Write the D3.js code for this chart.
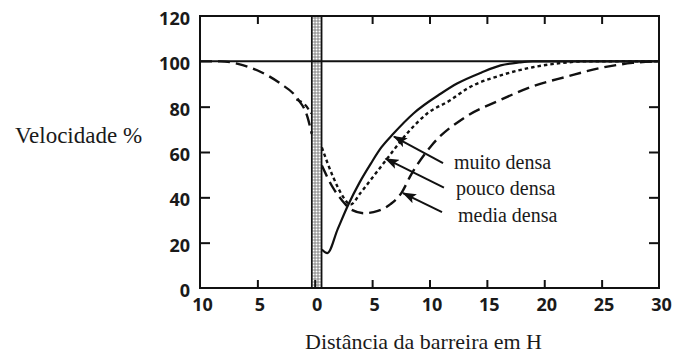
<!DOCTYPE html>
<html>
<head>
<meta charset="utf-8">
<script src="https://cdn.jsdelivr.net/npm/d3@7"></script>
<style>
body { margin: 0; background: #fff; }
svg { display: block; }
.num { font-family: "Open Sans", sans-serif; font-weight: 700; font-size: 18px; fill: #1a1a1a; }
.serif { font-family: "Liberation Serif", "Times New Roman", serif; fill: #1a1a1a; }
</style>
</head>
<body>
<svg id="chart" width="678" height="355"></svg>
<script>
// ---- values: [distance in H, velocity %] ----
const xTicks = [-10, -5, 0, 5, 10, 15, 20, 25, 30];
const yTicks = [0, 20, 40, 60, 80, 100, 120];
const sideYTicks = [20, 40, 60, 80];
const topTicks = [-5, 5, 10, 15, 20, 25];
const bottomTicks = [-5, 0, 5, 10, 15, 20, 25];
const barrier = [-0.26, 0.6];
const reference = 100;

const seriesNames = ["muito densa", "pouco densa", "media densa"];

const muitoDensa = [[0.62, 17], [1.1, 15.4], [2.0, 26], [2.9, 36.5], [3.9, 46.5], [4.9, 55], [5.8, 62],
  [6.8, 67.8], [8.6, 77], [11, 85.8], [12.4, 90.2], [14.5, 95], [16.2, 98.2], [17.8, 99.5], [19, 100], [30, 100]];

const poucoDensaWind = [[-1.6, 83.2], [-0.8, 80.6], [-0.3, 77]];
const poucoDensa = [[0.62, 62], [1.6, 49], [2.5, 40], [3.1, 36.8], [4.0, 42], [5.0, 48.5], [6.3, 57],
  [8.1, 68.5], [9.8, 77], [11.8, 82.8], [13.3, 88], [16.2, 93.8], [19, 97.4], [22, 99.5], [23.5, 100], [30, 100]];

const mediaDensaWind = [[-10, 100], [-8.2, 100], [-6.7, 98.9], [-4.7, 95.3], [-3.0, 90.2], [-1.5, 83.5],
  [-0.63, 75.4], [-0.26, 68]];
const mediaDensa = [[0.62, 54], [1.5, 45], [2.4, 38.5], [3.2, 34.5], [4.3, 33], [5.5, 34], [6.6, 37],
  [7.5, 41.5], [8.4, 50], [10.2, 63], [13, 75], [16.2, 83], [19, 89], [22, 93.3], [25, 97.2], [27.7, 99.3], [30, 100]];

// arrows from labels to curves (tail -> tip, in data units)
const arrowTails = [[11.18, 55.1], [11.26, 44.3], [11.09, 33.5]];
const arrowTips = [[6.9, 66.8], [6.17, 57.1], [7.69, 41.9]];
const labelAnchors = [[12.13, 52.5], [12.3, 41.0], [12.48, 29.1]];

// ------- scales -------
const svg = d3.select("#chart");
const x = d3.scaleLinear().domain([-10, 30]).range([200, 659]);
const y = d3.scaleLinear().domain([0, 120]).range([288, 16]);

// stipple pattern for the barrier
const defs = svg.append("defs");
const pat = defs.append("pattern").attr("id", "stipple")
  .attr("width", 3).attr("height", 3).attr("patternUnits", "userSpaceOnUse");
pat.append("rect").attr("width", 3).attr("height", 3).attr("fill", "#9a9a9a");
pat.append("circle").attr("cx", 1.5).attr("cy", 1.5).attr("r", 1).attr("fill", "#fff");

defs.append("marker").attr("id", "head")
  .attr("viewBox", "0 0 14 10").attr("refX", 13).attr("refY", 5)
  .attr("markerWidth", 14).attr("markerHeight", 10)
  .attr("markerUnits", "userSpaceOnUse").attr("orient", "auto")
  .append("path").attr("d", "M0,0 L14,5 L0,10 L3,5 Z").attr("fill", "#111");

// barrier
svg.append("rect")
  .attr("x", x(barrier[0])).attr("y", y(120))
  .attr("width", x(barrier[1]) - x(barrier[0])).attr("height", y(0) - y(120))
  .attr("fill", "url(#stipple)").attr("stroke", "#111").attr("stroke-width", 1.6);

// reference line at 100 %
svg.append("line")
  .attr("x1", x(-10)).attr("x2", x(30))
  .attr("y1", y(reference)).attr("y2", y(reference))
  .attr("stroke", "#111").attr("stroke-width", 2);

// frame
svg.append("rect")
  .attr("x", x(-10)).attr("y", y(120))
  .attr("width", x(30) - x(-10)).attr("height", y(0) - y(120))
  .attr("fill", "none").attr("stroke", "#111").attr("stroke-width", 2);

// inside ticks
function tickMarks(axis, vals, tr) {
  const g = svg.append("g").attr("transform", tr)
    .call(axis.tickValues(vals).tickFormat("").tickSizeOuter(0));
  g.select(".domain").remove();
  g.selectAll(".tick line").attr("stroke", "#111").attr("stroke-width", 2);
}
tickMarks(d3.axisLeft(y).tickSizeInner(-10), sideYTicks, `translate(${x(-10)},0)`);
tickMarks(d3.axisRight(y).tickSizeInner(-10), sideYTicks, `translate(${x(30)},0)`);
tickMarks(d3.axisBottom(x).tickSizeInner(-8), bottomTicks, `translate(0,${y(0)})`);
tickMarks(d3.axisTop(x).tickSizeInner(-8), topTicks, `translate(0,${y(120)})`);

// tick labels
const yLab = svg.append("g").attr("transform", `translate(${x(-10)},2)`)
  .call(d3.axisLeft(y).tickValues(yTicks).tickSize(0).tickPadding(10));
yLab.select(".domain").remove();
yLab.selectAll("text").attr("class", "num").attr("dy", "0.36em");

const xLab = svg.append("g").attr("transform", `translate(2,${y(0)})`)
  .call(d3.axisBottom(x).tickValues(xTicks).tickSize(0).tickPadding(10).tickFormat(d => Math.abs(d)));
xLab.select(".domain").remove();
xLab.selectAll("text").attr("class", "num");

// curves
const line = d3.line().x(d => x(d[0])).y(d => y(d[1])).curve(d3.curveMonotoneX);
function drawCurve(data, dash, width) {
  svg.append("path").datum(data)
    .attr("d", line)
    .attr("fill", "none").attr("stroke", "#111")
    .attr("stroke-width", width)
    .attr("stroke-dasharray", dash);
}
drawCurve(mediaDensaWind, "12,6", 2.4);
drawCurve(poucoDensaWind, "6,4", 2.2);
drawCurve(mediaDensa, "12,6", 2.4);
drawCurve(poucoDensa, "3.5,3", 2.4);
drawCurve(muitoDensa, null, 2.2);

// arrows and labels
svg.append("g").selectAll("line").data(arrowTails).join("line")
  .attr("x1", d => x(d[0])).attr("y1", d => y(d[1]))
  .attr("x2", (d, i) => x(arrowTips[i][0])).attr("y2", (d, i) => y(arrowTips[i][1]))
  .attr("stroke", "#111").attr("stroke-width", 2)
  .attr("marker-end", "url(#head)");

svg.append("g").selectAll("text").data(seriesNames).join("text")
  .attr("class", "serif")
  .attr("x", (d, i) => x(labelAnchors[i][0]))
  .attr("y", (d, i) => y(labelAnchors[i][1]))
  .attr("font-size", 20)
  .text(d => d);

// axis titles
svg.append("text").attr("class", "serif")
  .attr("x", 15).attr("y", 143).attr("font-size", 23)
  .text("Velocidade %");
svg.append("text").attr("class", "serif")
  .attr("x", 305).attr("y", 349).attr("font-size", 22)
  .text("Distância da barreira em H");
</script>
</body>
</html>
